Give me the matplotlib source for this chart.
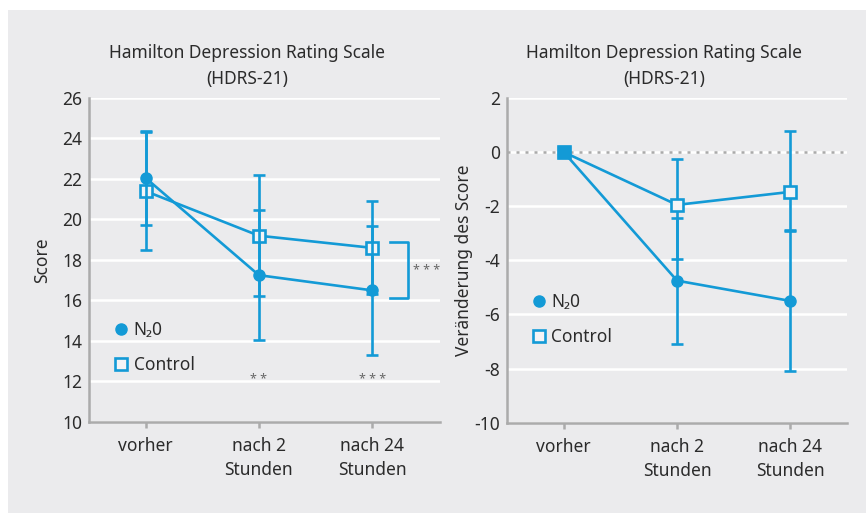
import matplotlib
matplotlib.use("Agg")
import matplotlib.pyplot as plt
from matplotlib.lines import Line2D
from matplotlib.patches import Rectangle

plt.rcParams['font.family'] = ['Noto Sans', 'DejaVu Sans']
plt.rcParams['axes.unicode_minus'] = False

# data
zeitpunkte = ['vorher', 'nach 2\nStunden', 'nach 24\nStunden']
x = [0, 1, 2]

n2o_score = [22.05, 17.25, 16.5]
n2o_err = [2.3, 3.2, 3.2]
ctrl_score = [21.4, 19.2, 18.6]
ctrl_err_lo = [2.9, 3.0, 2.3]
ctrl_err_hi = [2.9, 3.0, 2.3]

n2o_delta = [0, -4.75, -5.5]
n2o_delta_err = [0, 2.33, 2.6]
ctrl_delta = [0, -1.95, -1.47]
ctrl_delta_lo = [0, 2.0, 1.4]
ctrl_delta_hi = [0, 1.7, 2.24]

sig_labels = ['', '* *', '* * *']
sig_y = 12.1
bracket_top, bracket_bottom = 18.9, 16.1

blue = '#139ad6'
bg = '#ebebed'
axis_grey = '#ababab'
text_col = '#2b2b2b'
star_col = '#666666'
lw = 1.9

fig = plt.figure(figsize=(8.66, 5.13), dpi=100)
fig.patch.set_facecolor('white')
fig.patches.append(Rectangle((8 / 866, 0), 1 - 8 / 866, 1 - 10 / 513,
                             transform=fig.transFigure, facecolor=bg,
                             edgecolor='none', zorder=-10))

ax1 = fig.add_axes([0.1028, 0.1774, 0.4053, 0.6316])
ax2 = fig.add_axes([0.5855, 0.1760, 0.3926, 0.6330])


def style(ax, ylim, yticks):
    ax.set_facecolor(bg)
    ax.set_ylim(*ylim)
    ax.set_yticks(yticks)
    ax.set_xticks(x)
    ax.set_xticklabels(zeitpunkte, fontsize=12.5, color=text_col, linespacing=1.4)
    ax.tick_params(axis='y', length=0, pad=5, labelsize=12.5, labelcolor=text_col)
    ax.tick_params(axis='x', length=4, width=1.8, color=axis_grey, pad=7)
    for s in ['top', 'right']:
        ax.spines[s].set_visible(False)
    for s in ['left', 'bottom']:
        ax.spines[s].set_color(axis_grey)
        ax.spines[s].set_linewidth(1.8)
    ax.grid(axis='y', color='white', linewidth=1.8)
    ax.set_axisbelow(True)


style(ax1, (10, 26), range(10, 27, 2))
ax1.set_xlim(-0.5, 2.6)
style(ax2, (-10, 2), range(-10, 3, 2))
ax2.set_xlim(-0.5, 2.5)

ekw = dict(color=blue, lw=lw, elinewidth=lw, capsize=4, capthick=lw)

# left panel
ax1.errorbar(x, ctrl_score, yerr=[ctrl_err_lo, ctrl_err_hi], marker='s', ms=8,
             mfc='#f4f4f6', mec=blue, mew=lw, zorder=3, **ekw)
ax1.errorbar(x, n2o_score, yerr=n2o_err, marker='o', ms=8, mfc=blue, mec=blue,
             zorder=4, **ekw)

for xi, lab in zip(x, sig_labels):
    ax1.text(xi, sig_y, lab, ha='center', va='center', fontsize=9, color=star_col)

bx0, bx1 = 2.16, 2.315
ax1.plot([bx0, bx1, bx1, bx0], [bracket_top, bracket_top, bracket_bottom, bracket_bottom],
         color=blue, lw=lw, clip_on=False)
ax1.text(2.48, (bracket_top + bracket_bottom) / 2, '* * *', ha='center', va='center',
         fontsize=9, color=star_col, clip_on=False)

ax1.set_ylabel('Score', fontsize=12.5, color=text_col, labelpad=8)

# right panel
ax2.axhline(0, color='#aaaaaa', lw=1.8, ls=(0, (1.2, 2.4)), zorder=1)
ax2.errorbar(x[1:], ctrl_delta[1:], yerr=[ctrl_delta_lo[1:], ctrl_delta_hi[1:]],
             fmt='none', zorder=3, **ekw)
ax2.errorbar(x[1:], n2o_delta[1:], yerr=n2o_delta_err[1:], fmt='none', zorder=3, **ekw)
ax2.plot(x, ctrl_delta, color=blue, lw=lw, marker='s', ms=8, mfc='#f4f4f6',
         mec=blue, mew=lw, zorder=4)
ax2.plot(x, n2o_delta, color=blue, lw=lw, marker='o', ms=8, mfc=blue, mec=blue,
         zorder=4)
ax2.plot(x[0], ctrl_delta[0], marker='s', ms=9, color=blue, zorder=5)

ax2.set_ylabel('Veränderung des Score', fontsize=12.5, color=text_col, labelpad=1)

# legends
handles = [Line2D([], [], ls='none', marker='o', ms=8, mfc=blue, mec=blue),
           Line2D([], [], ls='none', marker='s', ms=8, mfc='#f4f4f6', mec=blue, mew=lw)]
labels = ['N\u20820', 'Control']
for ax, anchor in [(ax1, (0.075, 0.23)), (ax2, (0.077, 0.317))]:
    leg = ax.legend(handles, labels, loc='center left', bbox_to_anchor=anchor,
                    frameon=False, fontsize=12.5, handlelength=0.7, handletextpad=0.35,
                    labelspacing=1.0, borderpad=0, borderaxespad=0)
    for t in leg.get_texts():
        t.set_color(text_col)

title = 'Hamilton Depression Rating Scale\n(HDRS-21)'
fig.text(247 / 866, 1 - 66 / 513, title, ha='center', va='center', fontsize=12.5,
         color=text_col, linespacing=1.55)
fig.text(664 / 866, 1 - 66 / 513, title, ha='center', va='center', fontsize=12.5,
         color=text_col, linespacing=1.55)

fig.savefig('out.png', dpi=100, facecolor='white')
